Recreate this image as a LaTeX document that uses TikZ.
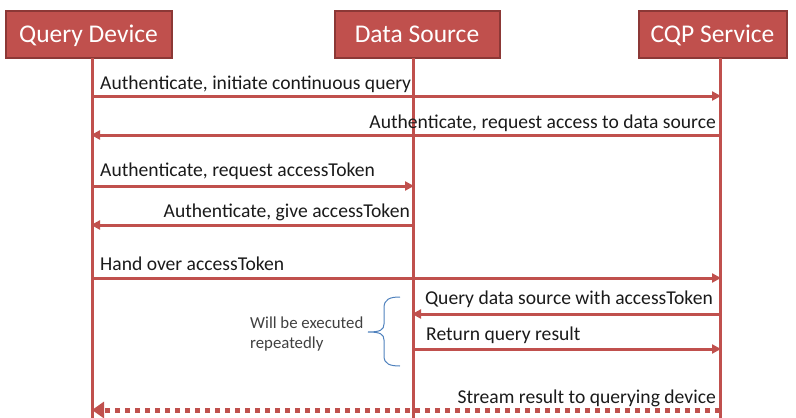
\documentclass[tikz,border=0pt]{standalone}
\usepackage{fontspec}
\setmainfont{Carlito}
\usetikzlibrary{arrows.meta}
\definecolor{boxred}{HTML}{C0504D}
\definecolor{boxedge}{HTML}{8C3836}
\definecolor{bracecol}{HTML}{4F81BD}
\definecolor{txt}{HTML}{1A1A1A}
\begin{document}
\begin{tikzpicture}[x=1pt,y=-1pt,
  actor/.style={draw=boxedge,line width=2pt,fill=boxred,text=white,font=\fontsize{25.5}{28}\selectfont,minimum height=47pt,inner xsep=4pt,text height=20pt,text depth=3pt},
  life/.style={draw=boxred,line width=3pt},
  msg/.style={draw=boxred,line width=3pt,-{Triangle[length=9pt,width=9pt]},shorten >=-1pt},
  stream/.style={draw=boxred,line width=5pt,dash pattern=on 5pt off 5pt,-{Triangle[length=12pt,width=16pt]}},
  lbl/.style={text=txt,font=\fontsize{19.6}{22}\selectfont,inner sep=0pt},
  note/.style={text=black!75,font=\fontsize{16.8}{19}\selectfont,inner sep=0pt,align=left}]
\useasboundingbox (0,0) rectangle (796,418);
% actors
\node[actor,minimum width=166pt] (qd) at (88.5,34) {Query Device};
\node[actor,minimum width=165pt] (ds) at (417,34) {Data Source};
\node[actor,minimum width=148pt] (cqp) at (712.5,34) {CQP Service};
% lifeline coordinates
\coordinate (qdb) at (92,418);
\coordinate (dsb) at (413,418);
\coordinate (cqpb) at (720,418);
\coordinate (qdt) at (92,58);
\coordinate (dst) at (413,58);
\coordinate (cqpt) at (720,58);
\draw[life] (qdt) -- (qdb);
\draw[life] (dst) -- (dsb);
\draw[life] (cqpt) -- (cqpb);
% message endpoints
\foreach \n/\y in {1/96,2/135,3/186,4/225,5/278,6/314,7/349,8/410}{
  \coordinate (q\n) at (92,\y);
  \coordinate (d\n) at (413,\y);
  \coordinate (c\n) at (720,\y);
}
\draw[msg] (q1) -- (c1);
\node[lbl,anchor=base west] (l1) at (100,89) {Authenticate, initiate continuous query};
\draw[msg] (c2) -- (q2);
\node[lbl,anchor=base east] (l2) at (716,128) {Authenticate, request access to data source};
\draw[msg] (q3) -- (d3);
\node[lbl,anchor=base west] (l3) at (100,176) {Authenticate, request accessToken};
\draw[msg] (d4) -- (q4);
\node[lbl,anchor=base east] (l4) at (410,217) {Authenticate, give accessToken};
\draw[msg] (q5) -- (c5);
\node[lbl,anchor=base west] (l5) at (100,270) {Hand over accessToken};
\draw[msg] (c6) -- (d6);
\node[lbl,anchor=base east] (l6) at (713,304) {Query data source with accessToken};
\draw[msg] (d7) -- (c7);
\node[lbl,anchor=base west] (l7) at (426,340) {Return query result};
\draw[stream] (c8) -- (q8);
\node[lbl,anchor=base east] (l8) at (716,403) {Stream result to querying device};
% brace
\coordinate (bt) at (400,297);
\coordinate (bb) at (400,366);
\coordinate (bm) at (368,332);
\draw[bracecol,line width=1pt] (bt) .. controls (390,297) and (384,299) .. (384,308)
  -- (384,324) .. controls (384,330) and (380,332) .. (bm)
  (bm) .. controls (380,332) and (384,334) .. (384,340)
  -- (384,356) .. controls (384,364) and (390,366) .. (bb);
\node[note,anchor=base west] (n1) at (250,328) {Will be executed};
\node[note,anchor=base west] (n2) at (250,348) {repeatedly};
\end{tikzpicture}
\end{document}
